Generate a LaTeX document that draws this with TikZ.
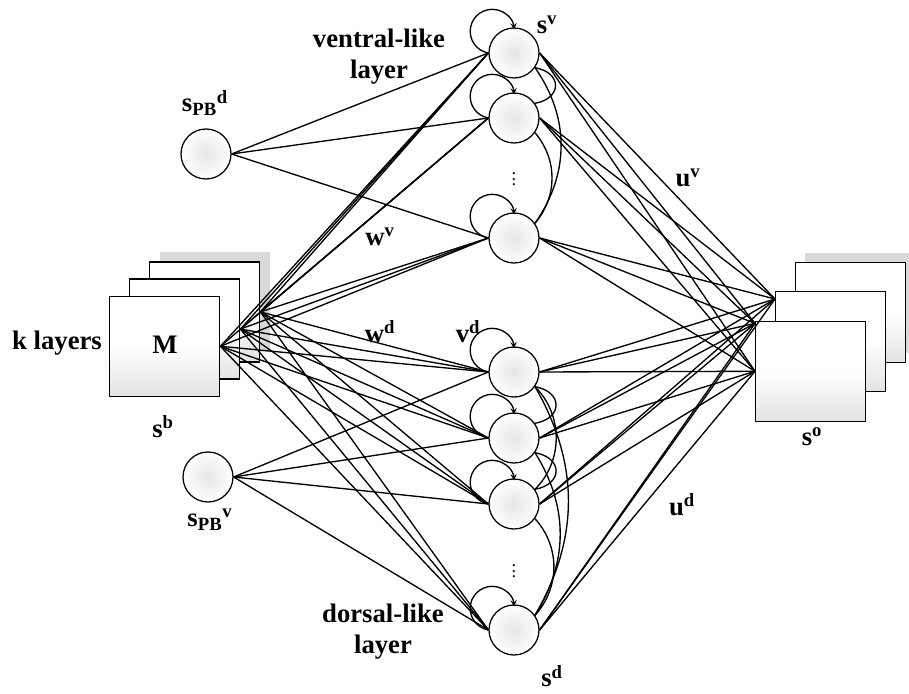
\documentclass[tikz,border=0pt]{standalone}
\usepackage{fontspec}
\setmainfont{Liberation Serif}

\begin{document}
\begin{tikzpicture}[
	neuron/.style={circle,draw,line width=0.9pt,minimum size=1.25cm,inner sep=0pt,inner color=gray!20,outer color=white},
	layerbox/.style={rectangle,draw,line width=1pt,minimum width=2.75cm,minimum height=2.5cm,anchor=south west,top color=white,bottom color=gray!22,middle color=white},
	shadowbox/.style={rectangle,fill=gray!30,minimum width=2.75cm,minimum height=2.5cm,anchor=south west},
	lbl/.style={font=\fontsize{19}{22}\selectfont\bfseries},
	wire/.style={line width=0.95pt},
	]
	\useasboundingbox (0,0) rectangle (22.725,17.325);

	% input layers
	\node[shadowbox] (bsh) at (4.0,8.51) {};
	\node[layerbox] (b3) at (3.725,8.26) {};
	\node[layerbox] (b2) at (3.225,7.83) {};
	\node[layerbox] (b1) at (2.725,7.4) {};

	% output layers
	\node[shadowbox] (osh) at (20.125,8.5) {};
	\node[layerbox] (o3) at (19.875,8.25) {};
	\node[layerbox] (o2) at (19.375,7.525) {};
	\node[layerbox] (o1) at (18.875,6.775) {};

	\coordinate (t1) at (o1.west);
	\coordinate (t2) at ([yshift=-2pt]o1.north west);
	\coordinate (t3) at ([yshift=-6pt]o2.north west);

	% neurons
	\node[neuron] (v1) at (12.85,16.0) {};
	\node[neuron] (v2) at (12.85,14.375) {};
	\node[neuron] (v3) at (12.85,11.375) {};
	\node[neuron] (d1) at (12.85,8.025) {};
	\node[neuron] (d2) at (12.85,6.375) {};
	\node[neuron] (d3) at (12.85,4.725) {};
	\node[neuron] (d4) at (12.85,1.575) {};
	\node[neuron] (pbd) at (5.15,13.475) {};
	\node[neuron] (pbv) at (5.2,5.4) {};

	\node[font=\fontsize{13}{15}\selectfont] (vdots) at (12.85,12.95) {$\vdots$};
	\node[font=\fontsize{13}{15}\selectfont] (ddots) at (12.85,3.15) {$\vdots$};

	% connections
	\foreach \src in {b1,b2,b3}
		\foreach \dst in {v1,v2,v3,d1,d2,d3,d4}
			\draw[wire] (\src.east) -- (\dst.west);
	\foreach \dst in {v1,v2,v3}
		\draw[wire] (pbd.east) -- (\dst.west);
	\foreach \dst in {d1,d2,d3,d4}
		\draw[wire] (pbv.east) -- (\dst.west);
	\foreach \n in {v1,v2,v3,d1,d2,d3,d4}
		\foreach \t in {t1,t2,t3}
			\draw[wire] (\n.east) -- (\t);

	% recurrent
	\foreach \n in {v1,v2,v3,d1,d2,d3,d4}
		\draw[wire,-stealth] (\n.west) arc[start angle=260,end angle=5,radius=0.55cm];
	\foreach \a/\b/\bend/\loose in {v1/v2/80/2, v1/v3/35/1, v2/v3/40/1, d1/d2/80/2, d2/d3/80/2, d1/d3/45/1, d2/d4/32/1, d3/d4/42/1, d1/d4/30/1}
		\draw[wire] (\a.-35) to[bend left=\bend,looseness=\loose] (\b.35);

	% labels
	\node[lbl] (klay) at (1.425,8.75) {k layers};
	\node[lbl] (mlab) at (4.125,8.7) {M};
	\node[lbl] (sb) at (4.075,6.65) {s\textsuperscript{b}};
	\node[lbl] (so) at (20.3,6.4) {s\textsuperscript{o}};
	\node[lbl] (spbd) at (5.125,14.75) {s\textsubscript{PB}\textsuperscript{d}};
	\node[lbl] (spbv) at (5.25,4.325) {s\textsubscript{PB}\textsuperscript{v}};
	\node[lbl,align=center] (vent) at (9.475,15.9) {ventral-like\\layer};
	\node[lbl,align=center] (dors) at (9.575,1.525) {dorsal-like\\layer};
	\node[lbl] (wv) at (9.5,11.4) {w\textsuperscript{v}};
	\node[lbl] (wd) at (9.5,9.025) {w\textsuperscript{d}};
	\node[lbl] (vd) at (11.7,9.025) {v\textsuperscript{d}};
	\node[lbl] (sv) at (13.675,16.7) {s\textsuperscript{v}};
	\node[lbl] (sd) at (13.8,0.42) {s\textsuperscript{d}};
	\node[lbl] (uv) at (17.2,12.875) {u\textsuperscript{v}};
	\node[lbl] (ud) at (17.05,4.7) {u\textsuperscript{d}};
\end{tikzpicture}
\end{document}
